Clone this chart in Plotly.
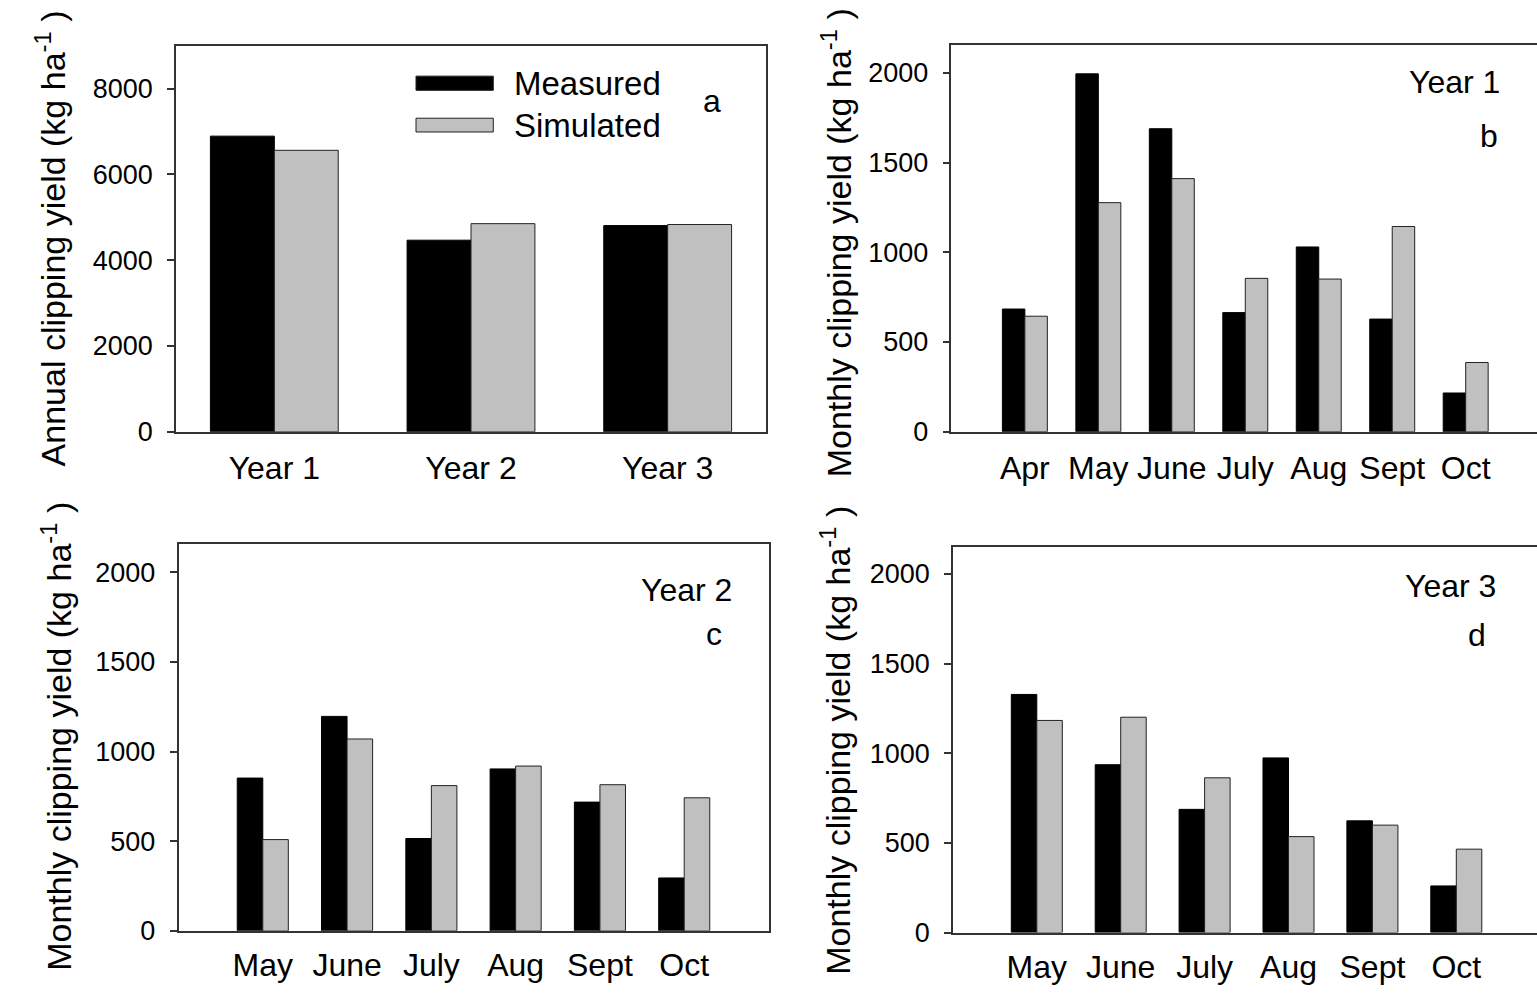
import plotly.graph_objects as go

W, H = 1537, 1003

# ---------------- data ----------------
years = ["Year 1", "Year 2", "Year 3"]
annual_measured = [6890, 4465, 4805]
annual_simulated = [6560, 4850, 4830]

months_y1 = ["Apr", "May", "June", "July", "Aug", "Sept", "Oct"]
y1_measured = [684, 1995, 1689, 664, 1030, 628, 216]
y1_simulated = [644, 1277, 1411, 855, 851, 1144, 386]

months_y2 = ["May", "June", "July", "Aug", "Sept", "Oct"]
y2_measured = [852, 1196, 515, 903, 718, 295]
y2_simulated = [509, 1070, 810, 919, 815, 742]

months_y3 = ["May", "June", "July", "Aug", "Sept", "Oct"]
y3_measured = [1328, 936, 687, 974, 623, 260]
y3_simulated = [1183, 1201, 863, 535, 599, 465]

annual_ticks = [0, 2000, 4000, 6000, 8000]
monthly_ticks = [0, 500, 1000, 1500, 2000]

# ---------------- style ----------------
FONT = "Liberation Sans, Arial, sans-serif"
BLACK = "#000000"
GREY = "#c0c0c0"
LINE = "#333333"


def fx(p):
    return p / W


def fy(p):
    return 1 - p / H


fig = go.Figure()

panels = [
    (years, annual_measured, annual_simulated, "x", "y", 0.325),
    (months_y1, y1_measured, y1_simulated, "x2", "y2", 0.306),
    (months_y2, y2_measured, y2_simulated, "x3", "y3", 0.303),
    (months_y3, y3_measured, y3_simulated, "x4", "y4", 0.304),
]

for cats, meas, sim, xa, ya, w in panels:
    fig.add_trace(go.Bar(x=cats, y=meas, xaxis=xa, yaxis=ya, width=w, offset=-w,
                         marker=dict(color=BLACK, line=dict(color=BLACK, width=1)),
                         name="Measured", showlegend=False))
    fig.add_trace(go.Bar(x=cats, y=sim, xaxis=xa, yaxis=ya, width=w, offset=0,
                         marker=dict(color=GREY, line=dict(color="#222222", width=1)),
                         name="Simulated", showlegend=False))

geo = {
    "a": dict(x0=176, x1=766, y0=46.3, y1=438.3, xr=[-0.5, 2.5], yr=[0, 9000],
              ticks=annual_ticks, mirror_y=True, xstand=7),
    "b": dict(x0=951.4, x1=1537, y0=46, y1=438.3, xr=[-1, -1 + (1537 - 951.4) / 73.47],
              yr=[0, 2154], ticks=monthly_ticks, mirror_y=False, xstand=7),
    "c": dict(x0=178.5, x1=768.5, y0=552.3, y1=945, xr=[-1, 6], yr=[0, 2157],
              ticks=monthly_ticks, mirror_y=True, xstand=5),
    "d": dict(x0=952.9, x1=1537, y0=555, y1=946.7, xr=[-1, -1 + (1537 - 952.9) / 83.9],
              yr=[0, 2152], ticks=monthly_ticks, mirror_y=False, xstand=5),
}

layout = dict(
    width=W, height=H, margin=dict(l=0, r=0, t=0, b=0),
    paper_bgcolor="white", plot_bgcolor="white",
    barmode="overlay", showlegend=False,
    font=dict(family=FONT, color="black"),
)

for i, key in enumerate(["a", "b", "c", "d"]):
    g = geo[key]
    sx = "" if i == 0 else str(i + 1)
    layout["xaxis" + sx] = dict(
        domain=[fx(g["x0"]), fx(g["x1"])], anchor="y" + sx, range=g["xr"],
        type="category", showline=True, linecolor=LINE, linewidth=1.5, mirror=True,
        ticks="", showgrid=False, zeroline=False,
        tickfont=dict(family=FONT, size=32, color="black"), ticklabelstandoff=g["xstand"],
    )
    layout["yaxis" + sx] = dict(
        domain=[fy(g["y1"]), fy(g["y0"])], anchor="x" + sx, range=g["yr"],
        showline=True, linecolor=LINE, linewidth=1.5, mirror=g["mirror_y"],
        ticks="outside", ticklen=7, tickwidth=1.5, tickcolor=LINE,
        tickvals=g["ticks"], showgrid=False, zeroline=False,
        tickfont=dict(family=FONT, size=27, color="black"), ticklabelstandoff=9,
    )

fig.update_layout(**layout)

annotations = []
shapes = []

ytitles = [
    ("Annual clipping yield (kg ha<sup>-1</sup> )", 50, 242),
    ("Monthly clipping yield (kg ha<sup>-1</sup> )", 836, 246),
    ("Monthly clipping yield (kg ha<sup>-1</sup> )", 57, 748),
    ("Monthly clipping yield (kg ha<sup>-1</sup> )", 836, 751),
]
for txt, x, y in ytitles:
    annotations.append(dict(text=txt, x=fx(x), y=fy(y), xref="paper", yref="paper",
                            xanchor="center", yanchor="middle", textangle=-90,
                            showarrow=False, font=dict(family=FONT, size=34, color="black")))

labels = [
    ("a", 712, 103, "center"),
    ("Year 1", 1502, 83, "right"),
    ("b", 1488.5, 138, "center"),
    ("Year 2", 733.5, 599, "right"),
    ("c", 713.5, 644, "center"),
    ("Year 3", 1498, 595, "right"),
    ("d", 1476.5, 645, "center"),
]
for txt, x, y, anc in labels:
    annotations.append(dict(text=txt, x=fx(x), y=fy(y), xref="paper", yref="paper",
                            xanchor=anc, yanchor="middle", showarrow=False,
                            font=dict(family=FONT, size=32, color="black")))

legend_items = [("Measured", BLACK, 77.3, 91.7, 85), ("Simulated", GREY, 120, 134, 127)]
for name, col, ya0, ya1, yc in legend_items:
    shapes.append(dict(type="rect", xref="paper", yref="paper",
                       x0=fx(416), x1=fx(493.3), y0=fy(ya1), y1=fy(ya0),
                       fillcolor=col, line=dict(color="#222222", width=1)))
    annotations.append(dict(text=name, x=fx(512), y=fy(yc), xref="paper", yref="paper",
                            xanchor="left", yanchor="middle", showarrow=False,
                            font=dict(family=FONT, size=33, color="black")))

fig.update_layout(annotations=annotations, shapes=shapes)

fig.write_html("out.html")
